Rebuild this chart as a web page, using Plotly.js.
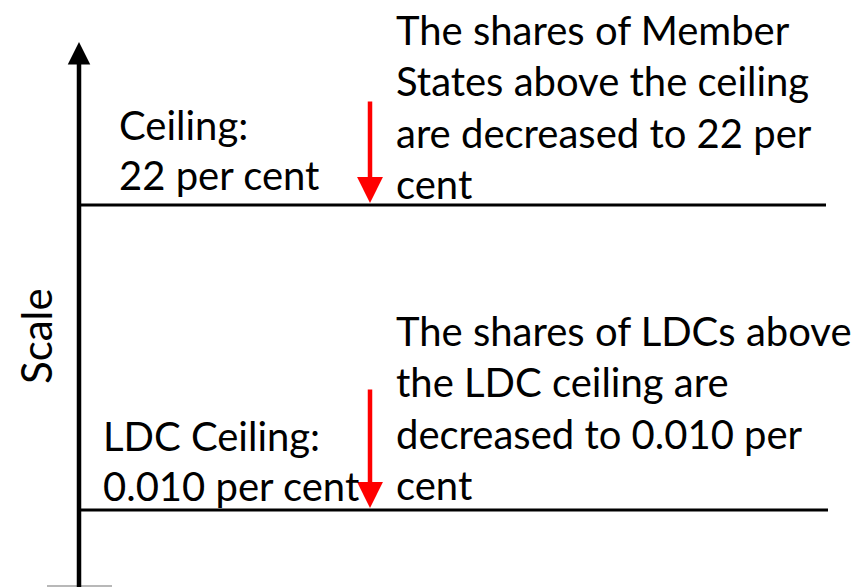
<!DOCTYPE html>
<html>
<head>
<meta charset="utf-8">
<script src="https://cdn.plot.ly/plotly-3.0.1.min.js"></script>
<style>html,body{margin:0;padding:0;background:#fff;}#chart{width:867px;height:587px;}</style>
</head>
<body>
<div id="chart"></div>
<script>
// ---- Data ----
const axisTitle = 'Scale';
const levelNames = ['Ceiling', 'LDC Ceiling'];
const levelLabels = [
  ['Ceiling:', '22 per cent'],
  ['LDC Ceiling:', '0.010 per cent']
];
const levelNotes = [
  ['The shares of Member', 'States above the ceiling', 'are decreased to 22 per', 'cent'],
  ['The shares of LDCs above', 'the LDC ceiling are', 'decreased to 0.010 per', 'cent']
];

// ---- Layout geometry (diagram coordinates = page pixels) ----
const W = 867, H = 587;
const axisX = 79;
const levelY = [205, 510];
const lineEnd = [826, 828];
const arrowX = 370;
const arrowTop = [100, 388];
const labelX = [117, 101];
const labelY0 = [124.5, 435.5];
const labelGap = 50;
const noteX = 394;
const noteY0 = [29.5, 330.5];
const noteGap = 51.6;
const FONT = 'Lato, "Open Sans", sans-serif';
const FS = 40;

const traces = [];
levelNames.forEach((name, i) => {
  traces.push({
    type: 'scatter', mode: 'lines', name: name,
    x: [axisX, lineEnd[i]], y: [levelY[i], levelY[i]],
    line: {color: '#000', width: 3}, hoverinfo: 'skip', showlegend: false
  });
});
// bottom baseline stub
traces.push({
  type: 'scatter', mode: 'lines', x: [47, 112], y: [586, 586],
  line: {color: '#a0a0a0', width: 1.5}, hoverinfo: 'skip', showlegend: false
});
// vertical axis line
traces.push({
  type: 'scatter', mode: 'lines', x: [axisX, axisX], y: [H, 54],
  line: {color: '#000', width: 4.5}, hoverinfo: 'skip', showlegend: false
});

const annotations = [];
// axis arrowhead
annotations.push({
  x: axisX, y: 42, ax: axisX, ay: 62, xref: 'x', yref: 'y', axref: 'x', ayref: 'y',
  showarrow: true, arrowhead: 2, arrowsize: 1.0, arrowwidth: 4.5, arrowcolor: '#000', text: '', standoff: 0
});
// red arrows
levelNames.forEach((name, i) => {
  annotations.push({
    x: arrowX, y: levelY[i] - 2, ax: arrowX, ay: arrowTop[i], xref: 'x', yref: 'y', axref: 'x', ayref: 'y',
    showarrow: true, arrowhead: 2, arrowsize: 1.15, arrowwidth: 4.5, arrowcolor: '#ff0000', text: '', standoff: 0
  });
  levelLabels[i].forEach((t, j) => {
    annotations.push({
      x: labelX[i], y: labelY0[i] + j * labelGap, xref: 'x', yref: 'y', text: t, showarrow: false,
      xanchor: 'left', yanchor: 'middle', font: {family: FONT, size: FS, color: '#000'}
    });
  });
  levelNotes[i].forEach((t, j) => {
    annotations.push({
      x: noteX, y: noteY0[i] + j * noteGap, xref: 'x', yref: 'y', text: t, showarrow: false,
      xanchor: 'left', yanchor: 'middle', font: {family: FONT, size: FS, color: '#000'}
    });
  });
});
// axis title
annotations.push({
  x: 36, y: 336, xref: 'x', yref: 'y', text: axisTitle, textangle: -90, showarrow: false,
  xanchor: 'center', yanchor: 'middle', font: {family: FONT, size: 42, color: '#000'}
});

const layout = {
  width: W, height: H,
  margin: {l: 0, r: 0, t: 0, b: 0, pad: 0},
  paper_bgcolor: '#fff', plot_bgcolor: '#fff',
  xaxis: {range: [0, W], visible: false, fixedrange: true},
  yaxis: {range: [H, 0], visible: false, fixedrange: true},
  annotations: annotations,
  showlegend: false
};
Plotly.newPlot('chart', traces, layout, {displayModeBar: false, staticPlot: true});
</script>
</body>
</html>
